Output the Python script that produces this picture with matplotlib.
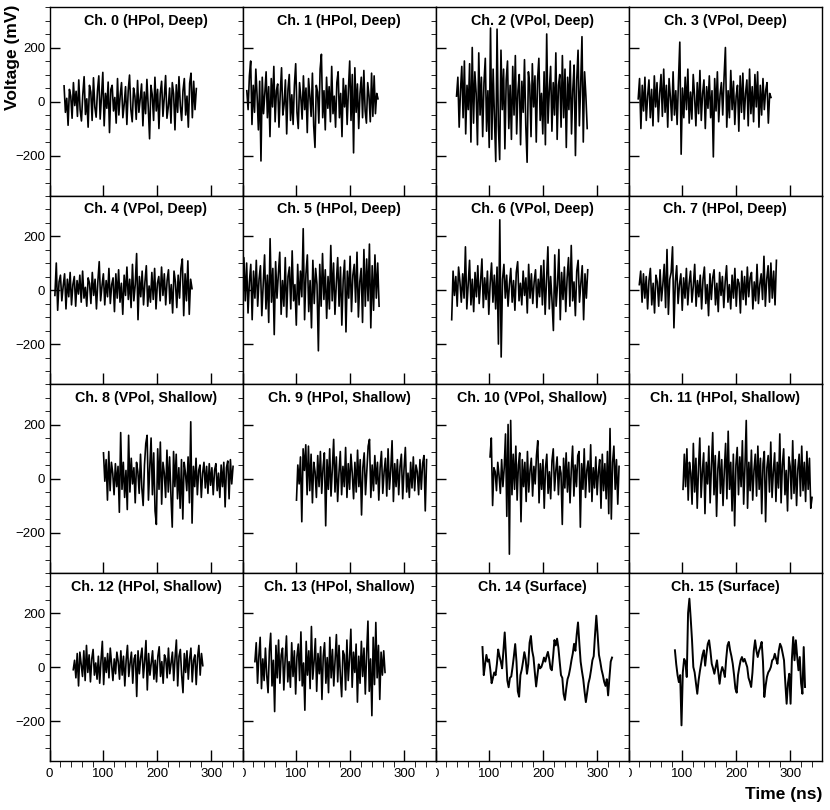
import numpy as np
import matplotlib
matplotlib.use("Agg")
import matplotlib.pyplot as plt
from matplotlib.ticker import MultipleLocator
from matplotlib.transforms import Bbox, TransformedBbox

plt.rcParams["font.family"] = ["Liberation Sans", "DejaVu Sans"]

titles = [
    "Ch. 0 (HPol, Deep)", "Ch. 1 (HPol, Deep)", "Ch. 2 (VPol, Deep)", "Ch. 3 (VPol, Deep)",
    "Ch. 4 (VPol, Deep)", "Ch. 5 (HPol, Deep)", "Ch. 6 (VPol, Deep)", "Ch. 7 (HPol, Deep)",
    "Ch. 8 (VPol, Shallow)", "Ch. 9 (HPol, Shallow)", "Ch. 10 (VPol, Shallow)", "Ch. 11 (HPol, Shallow)",
    "Ch. 12 (HPol, Shallow)", "Ch. 13 (HPol, Shallow)", "Ch. 14 (Surface)", "Ch. 15 (Surface)",
]

# first / last sample time of each trace (ns)
t_start = [27, 8, 39, 18, 10, 0, 30, 20, 100, 100, 101, 101, 44, 23, 87, 86]
t_end = [272, 251, 281, 264, 264, 253, 282, 274, 340, 341, 340, 340, 284, 264, 327, 327]

# voltages (mV)
ch0 = [58, -40, 12, -88, 45, 20, -62, 70, -15, 38,
       -55, 80, -30, -72, 25, 92, -48, 10, -95, 60,
       35, -70, 88, -20, -58, 40, 95, -65, 18, 108,
       -90, 30, -25, 72, -115, 45, 60, -35, 15, -80,
       85, -50, 22, 70, -60, -10, 55, -85, 40, 98,
       -30, -75, 50, 20, -66, 78, -40, 10, 65, -90,
       35, -45, 82, -20, -138, 60, 25, -70, 90, -35,
       45, -100, 30, 75, -55, 15, 96, -62, -20, 50,
       -80, 70, 28, -105, 62, -40, 92, -15, -70, 40,
       85, -50, 20, -95, 68, 105, -60, 75, -30, 48]
ch1 = [40, -30, 95, 150, -85, 60, -40, 120, 20, -105,
       75, -220, 90, -45, 30, 110, -60, 55, -130, 85,
       -20, 130, -75, 40, 65, -95, 30, 125, -50, -10,
       80, -120, 45, 100, -70, 25, -85, 60, 140, -40,
       -100, 70, 15, -65, 95, -30, 50, -115, 85, 20,
       -55, 105, -90, -170, 60, 35, -80, 120, 175, -60,
       40, -105, 90, -25, 55, -75, 130, -45, 20, -95,
       70, 110, -60, 30, -130, 85, -20, 60, -85, 45,
       150, -70, 100, -190, 125, -40, 65, -100, 30, 90,
       -60, 115, -35, -80, 70, 20, -75, 105, -55, 95,
       -45, 30, 10]
ch2 = [20, 90, -95, 40, 130, -60, 150, -120, 60, -30,
       140, -150, 200, -80, 110, 30, -160, 180, -50, 90,
       -130, 70, 160, -110, 40, -170, 272, -140, 120, -60,
       -222, 268, -90, -215, 190, -30, 120, -175, 80, 150,
       -100, 60, -140, 130, -50, 170, -120, 40, 100, -160,
       75, -40, 155, -90, -225, 110, 60, -130, 140, -20,
       95, -150, 80, 160, -70, 30, -120, 110, -160, 250,
       -80, 40, 130, -110, 70, -50, 180, -140, 60, 100,
       -95, 170, -60, 120, -170, 90, -30, 150, -120, 45,
       135, -200, 80, 190, -90, 60, 240, -150, 110, 20, -100]
ch3 = [10, 85, -100, 60, -35, 90, -70, 20, 80, -60,
       45, -90, 95, -20, 70, -75, 30, 100, -55, 120,
       -40, 60, -95, 85, 15, -70, 110, -50, 40, -85,
       75, 220, -195, 50, -60, 90, -30, 120, -80, 35,
       -65, 100, 20, -90, 70, -45, 115, -70, 30, 80,
       -100, 55, -25, 95, -60, 40, -205, 85, -35, 110,
       -75, 25, 70, -50, 90, 200, -95, 40, -60, 115,
       -30, 75, -85, 20, 60, -110, 95, -40, 105, -65,
       30, 80, -90, 120, -45, 55, -75, 100, -20, 110,
       -95, 60, -50, 85, -30, 40, 70, -80, 30, 15]
ch4 = [-20, 100, -75, 30, 55, -40, 15, 60, -70, 40,
       -25, 65, -55, 20, 50, -60, 35, -15, 55, -45,
       70, -30, 10, -60, 45, 25, -50, 65, -20, 40,
       -70, 30, 105, -40, 15, 60, -55, 35, -25, 80,
       -50, 20, 45, -80, 60, -30, 75, -45, 25, -90,
       55, -20, 85, -35, 40, -65, 95, -40, 20, 135,
       -110, 50, -25, 70, -55, 30, 90, -60, 15, -45,
       65, -35, 80, -70, 25, 50, -40, 85, -20, 60,
       -55, 35, 75, -50, 20, -85, 70, 30, -65, 55,
       -30, 80, 115, -95, 60, -40, 108, -90, 40, 5]
ch5 = [60, 120, -40, 100, -85, 30, 95, -110, 70, -30,
       110, -60, 40, 90, -95, 20, 130, -70, 55, -120,
       190, -45, 80, -165, 105, -30, 60, 140, -90, 35,
       -60, 120, -100, 50, 85, -70, 145, -40, 20, -130,
       95, -55, 70, -25, 227, -110, 60, 130, -80, 35,
       -140, 110, -50, 80, 20, -225, 95, -60, 135, -35,
       75, -105, 50, -70, 165, -40, 100, -90, 25, 120,
       -60, 85, -130, 40, 110, -155, 70, -30, 125, -80,
       55, 95, -45, 140, -100, 30, 80, -120, 150, -60,
       115, -40, 170, -140, 90, -75, 130, -30, 100, -60]
ch6 = [-110, 70, -20, 50, -60, 85, 30, -45, 60, -30,
       160, -70, 20, 110, -55, 40, -80, 65, -25, 90,
       -50, 30, 115, -65, 45, -35, 70, -90, 25, 100,
       -45, 55, -70, 85, -200, 260, -248, 40, 95, -30,
       55, -60, 20, 80, -45, 35, -75, 65, 105, -40,
       25, -55, 70, -20, 45, -85, 95, -30, 60, -50,
       30, 75, -65, 40, -25, 90, -55, 110, -90, 35,
       160, -70, 50, -40, -150, 130, -60, 20, 150, -110,
       65, -35, 85, -80, 45, 120, -60, 165, -40, 30,
       -95, 70, 110, -45, 25, 90, -110, 60, -30, 75]
ch7 = [20, 70, -45, 60, -30, 50, -70, 35, 80, -55,
       25, -85, 55, 30, -60, 75, -40, 20, 95, -65,
       150, -90, 40, 65, 160, -140, 30, 90, -50, 20,
       60, -75, 45, -30, 80, -55, 25, 70, -45, 15,
       95, -60, 35, -25, 55, -70, 40, 85, -50, 20,
       -95, 60, -35, 45, 75, -55, 25, -80, 65, -20,
       50, -65, 30, 90, -45, 20, -70, 55, -30, 80,
       -60, 40, 25, -85, 70, -35, 50, -55, 85, -25,
       45, 65, -70, 30, -40, 95, -50, 20, 60, -35,
       125, -60, 40, 90, -45, 100, -30, 70, -55, 110]
ch8 = [95, -10, 70, -80, 100, -45, 60, 20, -60, 55,
       -30, 45, -125, 170, -40, 60, -70, 30, -115, 160,
       -50, 75, -20, 40, -90, 60, 25, -55, 90, -35,
       -100, 50, 130, 160, -80, 40, 150, -60, 95, -120,
       -170, 110, -40, 135, -95, 60, 20, -70, 105, -50,
       80, -60, -180, 100, -30, 90, -75, 40, -110, 70,
       -150, 60, 20, -45, 80, -90, 210, -165, 45, -30,
       75, -60, 30, 50, -70, 20, 60, -35, 45, -55,
       55, -25, 40, -60, 30, 55, -45, 20, -70, 50,
       -30, 60, -105, 40, 65, -75, 70, -20, 45]
ch9 = [-80, 50, -20, 80, -160, 110, 30, 125, -60, 120,
       -45, 90, -90, 60, 25, -70, 85, -30, 100, -55,
       40, 95, -175, 70, -40, 110, -65, 35, 145, -50,
       80, -85, 20, 100, -60, 45, -30, 115, -70, 55,
       -40, 90, 20, -75, 60, -50, 105, -30, 70, -135,
       40, 95, -60, 30, 120, 145, -70, 50, -45, 85,
       -20, 60, -80, 40, 100, -55, 25, 75, -65, 110,
       -40, 30, 140, -85, 55, -30, 70, -60, 45, 90,
       -75, 35, 115, -50, 20, -70, 60, -35, 80, -45,
       50, 25, -60, 70, -40, 55, 85, -120, 70]
ch10 = [80, 150, -100, 40, 25, -45, 60, 10, -55, 70,
        -30, 40, 165, -140, 200, -280, 215, -60, 90, -40,
        120, -80, 50, 95, -160, 70, -30, 60, -85, 100,
        -50, 30, 75, -65, 45, -20, 85, 140, -90, 55,
        -40, 70, -110, 40, 90, -55, 25, -75, 65, 110,
        -45, 30, 80, -60, 45, 20, -170, 75, -35, 95,
        -50, 60, -90, 35, 120, -65, 50, -30, 85, 100,
        -180, 55, -40, 110, -70, 30, 65, -50, 125, -85,
        40, -35, 80, -60, 25, 70, -110, 90, -45, 55,
        -75, 100, -130, 185, -150, 60, 120, -40, 70, -95, 45]
ch11 = [-40, 90, -30, 110, -80, 60, 20, -95, 130, -50,
        75, -110, 40, 150, -70, 25, 95, -130, 60, -20,
        120, -90, 45, 170, -60, 85, -140, 35, 100, -55,
        70, -100, 30, 130, -75, 175, -40, 60, -120, 90,
        -175, 50, 115, -60, 80, -30, 140, -95, 45, 215,
        -110, 60, -45, 105, -80, 30, 90, -65, 120, -40,
        75, -130, 55, 100, -160, 40, 85, -50, 135, -70,
        25, 95, -85, 60, -35, 165, -90, 50, 110, -60,
        30, -120, 80, 45, -75, 140, -55, 70, -100, 35,
        90, -65, 120, -45, 60, -85, 100, -40, 75, -110, -70]
ch12 = [-10, 25, -40, 50, -70, 55, 10, -35, 60, -50,
        80, -20, 45, -55, 30, 65, -30, 15, -45, 40,
        -60, 25, 95, -65, 35, -20, 50, -40, 70, 10,
        -50, 30, -25, 55, 20, -45, 60, -30, 40, -70,
        25, 80, -35, 15, 55, -60, 30, 45, -109, 60,
        -25, 35, 70, -40, 20, 98, -85, 50, -30, 15,
        60, -45, 25, -55, 40, 75, -35, 20, -60, 45,
        30, -40, 70, -25, 15, 55, -50, 35, 100, -70,
        40, 65, -30, -95, 50, -20, 60, -45, 30, 70,
        -55, 25, 45, -65, 35, 80, -30, 50, 5]
ch13 = [20, 90, -60, 40, 110, -80, 30, -50, 70, -30,
        -95, 60, 125, -70, 25, -165, 80, -40, 100, -60,
        45, 70, -85, 30, 115, -55, 20, -75, 90, -35,
        60, -100, 40, 85, -50, 130, -70, 15, -160, 95,
        -30, 60, -80, 150, -45, 20, 105, -90, 50, -25,
        75, -120, 40, 90, -60, 35, -95, 110, -40, 65,
        -70, 25, 120, -55, 80, -30, -110, 60, 45, -85,
        100, -50, 30, 140, -75, 55, -20, 85, -130, 40,
        -60, 95, -35, 70, -100, 50, 170, -90, 30, -180,
        110, -65, 165, -40, 80, -120, 55, -30, 60, -20]
ch14 = [74, -30, 10, 45, 20, 28, -10, -60, -40, -20,
        -30, 10, 65, 40, 20, -5, 60, 128, 40, -50,
        -75, -40, -35, 0, 40, 85, 20, -90, -110, -30,
        -10, 20, 55, 30, -25, 10, 90, 115, 60, 35,
        -20, -72, -30, 10, -5, 0, 15, 35, 20, 40,
        56, 30, -5, -12, 40, 100, 80, 105, 72, 20,
        -30, -40, -100, -122, -80, -45, -30, -5, 25, 50,
        86, 60, 120, 165, 90, 20, -15, -45, -90, -130,
        -95, -60, -40, -10, 25, 40, 120, 190, 120, 45,
        20, -10, -30, -55, -70, -45, -105, -40, 20, 35]
ch15 = [62, 10, -30, -56, -30, -216, -20, 30, 20, -37,
        200, 253, 180, 100, 0, -20, -60, -99, -50, -15,
        15, 45, 62, 5, 50, 86, 99, 60, 12, -5,
        -25, 0, 25, -20, -62, -20, 0, -15, -37, 30,
        80, 93, 62, 40, 12, -30, -80, -95, -30, 0,
        25, 37, 20, 30, 15, 0, -40, -55, -74, -20,
        60, 99, 60, 37, 60, 74, 93, 20, -111, -70,
        -37, -20, -12, 0, 25, 30, 49, 30, 12, 60,
        86, 74, 50, 25, -60, -136, -60, -25, -136, 30,
        111, 25, 99, 40, -12, 37, -60, -99, 74, -74]

waveforms = [ch0, ch1, ch2, ch3, ch4, ch5, ch6, ch7,
             ch8, ch9, ch10, ch11, ch12, ch13, ch14, ch15]

x_ticks = [0, 100, 200, 300]
y_ticks = [-200, 0, 200]

W, H = 830, 810
col_x = [49.5, 242.5, 435.5, 628.5]
col_w = 193
row_y = [7, 195.5, 384, 572.5]
row_h = 188.5

fig = plt.figure(figsize=(W / 100, H / 100), dpi=100)

for k, (title, vals) in enumerate(zip(titles, waveforms)):
    r, c = divmod(k, 4)
    ax = fig.add_axes([col_x[c] / W, 1 - (row_y[r] + row_h) / H, col_w / W, row_h / H])
    t = np.linspace(t_start[k], t_end[k], len(vals))
    ax.plot(t, vals, color="black", lw=1.2 if k < 14 else 1.4)
    ax.set_xlim(0, 357.5)
    ax.set_ylim(-348, 350)
    ax.set_xticks(x_ticks)
    ax.set_yticks(y_ticks)
    ax.xaxis.set_minor_locator(MultipleLocator(20))
    ax.yaxis.set_minor_locator(MultipleLocator(50))
    ax.tick_params(direction="in", top=False, right=False, labelsize=9.5, width=1.0)
    ax.tick_params(axis="x", which="major", length=8, pad=5)
    ax.tick_params(axis="x", which="minor", length=4)
    ax.tick_params(axis="y", which="major", length=7, pad=3)
    ax.tick_params(axis="y", which="minor", length=3.4)
    ax.tick_params(labelleft=(c == 0), labelbottom=(r == 3))
    for sp in ax.spines.values():
        sp.set_linewidth(1.0)
    ax.text(0.5, 1 - 14 / row_h, title, transform=ax.transAxes, ha="center", va="center",
            fontsize=10.3, fontweight="bold")
    if r == 3 and c > 0:
        # the "0" label sits on the pad edge and is cut in half there
        clip = TransformedBbox(Bbox([[col_x[c] / W, 0], [(col_x[c] + col_w) / W, 1]]), fig.transFigure)
        for lab in ax.get_xticklabels():
            lab.set_clip_box(clip)
            lab.set_clip_on(True)

fig.text(13 / W, 1 - 5 / H, "Voltage (mV)", rotation=90, ha="center", va="top",
         fontsize=12.5, fontweight="bold")
fig.text(822 / W, 1 - 795 / H, "Time (ns)", ha="right", va="center",
         fontsize=12.5, fontweight="bold")

fig.savefig("out.png", dpi=100)
